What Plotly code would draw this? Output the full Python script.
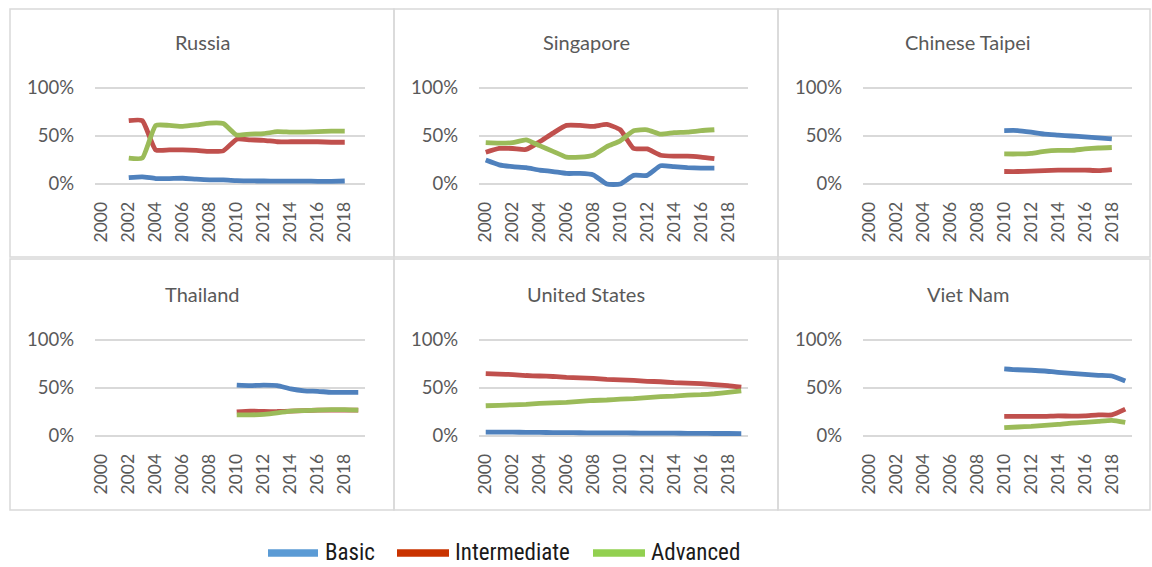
import plotly.graph_objects as go

W, H = 1152, 567

countries = ["Russia", "Singapore", "Chinese Taipei", "Thailand", "United States", "Viet Nam"]
series_names = ["Basic", "Intermediate", "Advanced"]

russia_years = [2002, 2003, 2004, 2005, 2006, 2007, 2008, 2009, 2010, 2011, 2012, 2013, 2014, 2015, 2016, 2017, 2018]
russia_basic = [0.066, 0.075, 0.057, 0.057, 0.060, 0.050, 0.043, 0.042, 0.035, 0.032, 0.031, 0.030, 0.030, 0.030, 0.028, 0.028, 0.031]
russia_inter = [0.66, 0.66, 0.355, 0.355, 0.355, 0.35, 0.34, 0.345, 0.467, 0.46, 0.455, 0.44, 0.44, 0.44, 0.44, 0.435, 0.435]
russia_adv = [0.27, 0.27, 0.61, 0.61, 0.60, 0.615, 0.635, 0.63, 0.51, 0.52, 0.525, 0.545, 0.54, 0.54, 0.545, 0.55, 0.55]

singapore_years = [2000, 2001, 2002, 2003, 2004, 2005, 2006, 2007, 2008, 2009, 2010, 2011, 2012, 2013, 2014, 2015, 2016, 2017]
singapore_basic = [0.25, 0.20, 0.18, 0.17, 0.145, 0.13, 0.11, 0.11, 0.095, 0.0, 0.0, 0.09, 0.09, 0.19, 0.18, 0.17, 0.165, 0.165]
singapore_inter = [0.33, 0.37, 0.37, 0.36, 0.44, 0.53, 0.61, 0.61, 0.60, 0.62, 0.565, 0.37, 0.365, 0.30, 0.29, 0.29, 0.28, 0.265]
singapore_adv = [0.43, 0.425, 0.43, 0.46, 0.40, 0.34, 0.28, 0.28, 0.30, 0.39, 0.45, 0.555, 0.565, 0.52, 0.535, 0.54, 0.555, 0.565]

taipei_years = [2010, 2011, 2012, 2013, 2014, 2015, 2016, 2017, 2018]
taipei_basic = [0.557, 0.557, 0.54, 0.52, 0.51, 0.50, 0.49, 0.48, 0.47]
taipei_inter = [0.13, 0.13, 0.135, 0.14, 0.145, 0.145, 0.145, 0.14, 0.15]
taipei_adv = [0.313, 0.313, 0.32, 0.34, 0.35, 0.35, 0.365, 0.375, 0.38]

thailand_years = [2010, 2011, 2012, 2013, 2014, 2015, 2016, 2017, 2018, 2019]
thailand_basic = [0.53, 0.525, 0.53, 0.525, 0.49, 0.47, 0.465, 0.455, 0.455, 0.455]
thailand_inter = [0.25, 0.26, 0.255, 0.255, 0.26, 0.265, 0.27, 0.27, 0.27, 0.27]
thailand_adv = [0.22, 0.22, 0.225, 0.24, 0.26, 0.265, 0.27, 0.275, 0.275, 0.27]

us_years = [2000, 2001, 2002, 2003, 2004, 2005, 2006, 2007, 2008, 2009,
            2010, 2011, 2012, 2013, 2014, 2015, 2016, 2017, 2018, 2019]
us_basic = [0.04, 0.04, 0.04, 0.038, 0.037, 0.036, 0.035, 0.034, 0.033, 0.033,
            0.032, 0.031, 0.030, 0.030, 0.029, 0.028, 0.027, 0.026, 0.026, 0.025]
us_inter = [0.65, 0.645, 0.64, 0.63, 0.625, 0.62, 0.61, 0.605, 0.60, 0.59,
            0.585, 0.58, 0.57, 0.565, 0.555, 0.55, 0.545, 0.535, 0.525, 0.51]
us_adv = [0.315, 0.32, 0.325, 0.33, 0.34, 0.345, 0.35, 0.36, 0.37, 0.375,
          0.385, 0.39, 0.40, 0.41, 0.415, 0.425, 0.43, 0.44, 0.455, 0.47]

vietnam_years = [2010, 2011, 2012, 2013, 2014, 2015, 2016, 2017, 2018, 2019]
vietnam_basic = [0.70, 0.69, 0.685, 0.677, 0.663, 0.653, 0.642, 0.632, 0.625, 0.573]
vietnam_inter = [0.205, 0.205, 0.205, 0.205, 0.21, 0.207, 0.21, 0.22, 0.22, 0.28]
vietnam_adv = [0.087, 0.094, 0.10, 0.11, 0.12, 0.135, 0.142, 0.153, 0.163, 0.142]

tick_years = [2000, 2002, 2004, 2006, 2008, 2010, 2012, 2014, 2016, 2018]
y_ticks = [0, 0.5, 1.0]
y_tick_labels = ["0%", "50%", "100%"]

panel_data = [
    (russia_years, [russia_basic, russia_inter, russia_adv]),
    (singapore_years, [singapore_basic, singapore_inter, singapore_adv]),
    (taipei_years, [taipei_basic, taipei_inter, taipei_adv]),
    (thailand_years, [thailand_basic, thailand_inter, thailand_adv]),
    (us_years, [us_basic, us_inter, us_adv]),
    (vietnam_years, [vietnam_basic, vietnam_inter, vietnam_adv]),
]

line_colors = ["#4F81BD", "#C0504D", "#9BBB59"]
legend_colors = ["#5B9BD5", "#C93300", "#92D050"]

TXT = "#595959"
FONT = "Lato, 'Open Sans', sans-serif"

def px(x):
    return x / W

def py(y):
    return 1 - y / H

# plot-area pixel geometry
col_x = [(95, 365), (479, 748), (863, 1132)]
row_y = [(88, 184), (340, 436)]   # (100% line, 0% line)
YMIN, YMAX = -0.035, 1.035

fig = go.Figure()
layout = dict(
    template="none",
    width=W, height=H,
    margin=dict(l=0, r=0, t=0, b=0, pad=0, autoexpand=False),
    paper_bgcolor="white", plot_bgcolor="white",
    showlegend=False,
    font=dict(family=FONT, color=TXT, size=18),
)

for i, (years, vals) in enumerate(panel_data):
    r, c = divmod(i, 3)
    ax = "" if i == 0 else str(i + 1)
    for s in range(3):
        fig.add_trace(go.Scatter(
            x=years, y=vals[s], mode="lines", name=series_names[s],
            line=dict(color=line_colors[s], width=4.8, shape="spline", smoothing=0.5),
            xaxis="x" + ax, yaxis="y" + ax, showlegend=False,
            hovertemplate="%{x}: %{y:.0%}<extra>" + series_names[s] + "</extra>",
        ))
    x0, x1 = col_x[c]
    ytop, ybot = row_y[r]
    unit = ybot - ytop
    top_px = ytop - (YMAX - 1) * unit
    bot_px = ybot + (0 - YMIN) * unit
    layout["xaxis" + ax] = dict(
        domain=[px(x0), px(x1)], anchor="y" + ax, automargin=False,
        range=[1999.5, 2019.5], tickmode="array", tickvals=tick_years,
        ticktext=[str(t) for t in tick_years], tickangle=-90,
        showgrid=False, zeroline=False, showline=False, ticks="",
        ticklabelstandoff=10, tickfont=dict(size=17.5, color=TXT, family=FONT),
        fixedrange=True,
    )
    layout["yaxis" + ax] = dict(
        domain=[py(bot_px), py(top_px)], anchor="x" + ax, automargin=False,
        range=[YMIN, YMAX], tickmode="array", tickvals=y_ticks, ticktext=y_tick_labels,
        showgrid=True, gridcolor="#D9D9D9", gridwidth=1.5,
        zeroline=False, showline=False, ticks="",
        ticklabelstandoff=20, tickfont=dict(size=18.5, color=TXT, family=FONT),
        fixedrange=True,
    )

fig.update_layout(**layout)

# panel frames
frames_x = [(10, 394), (394, 778), (778, 1150)]
frames_y = [(9, 257), (259, 510)]
shapes = []
for (fy0, fy1) in frames_y:
    for (fx0, fx1) in frames_x:
        shapes.append(dict(type="rect", xref="paper", yref="paper",
                           x0=px(fx0), x1=px(fx1), y0=py(fy1), y1=py(fy0),
                           line=dict(color="#D9D9D9", width=1.5), layer="below"))

# titles
title_cx = [202, 586, 968]
title_cy = [42, 294]
annotations = []
for i, name in enumerate(countries):
    r, c = divmod(i, 3)
    annotations.append(dict(text=name, xref="paper", yref="paper",
                            x=px(title_cx[c]), y=py(title_cy[r]),
                            showarrow=False, xanchor="center", yanchor="middle",
                            font=dict(size=20, color=TXT, family=FONT)))

# legend (drawn manually so swatches match the original)
leg_y = 553
leg_items = [(268, 318, 323), (397, 449, 453), (593, 645, 649)]
for (lx0, lx1, tx), name, col in zip(leg_items, series_names, legend_colors):
    shapes.append(dict(type="line", xref="paper", yref="paper",
                       x0=px(lx0), x1=px(lx1), y0=py(leg_y), y1=py(leg_y),
                       line=dict(color=col, width=7.5)))
    annotations.append(dict(text=name, xref="paper", yref="paper",
                            x=px(tx), y=py(leg_y - 1), showarrow=False,
                            xanchor="left", yanchor="middle",
                            font=dict(size=23, color="#1A1A1A",
                                      family="'Liberation Sans Narrow', 'Roboto Condensed', 'Liberation Sans', sans-serif")))

fig.update_layout(shapes=shapes, annotations=annotations)
fig.write_html(
    "out.html",
    config={"displayModeBar": False},
    post_script="document.body.style.margin='0';document.body.style.padding='0';"
                "document.documentElement.style.overflow='hidden';",
)
